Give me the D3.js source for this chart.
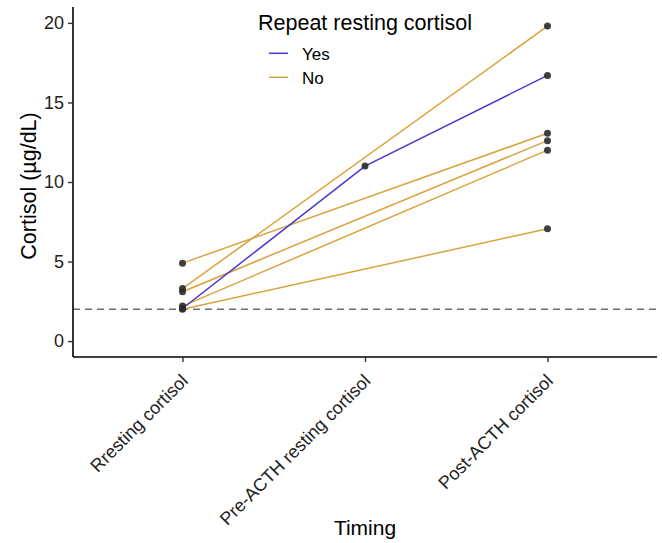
<!DOCTYPE html>
<html>
<head>
<meta charset="utf-8">
<script src="https://cdn.jsdelivr.net/npm/d3@7"></script>
<style>
  body { margin: 0; background: white; }
  text { font-family: "Liberation Sans", Arial, sans-serif; }
</style>
</head>
<body>
<script>
// Data
const timings = ['Rresting cortisol', 'Pre-ACTH resting cortisol', 'Post-ACTH cortisol']
const groups = ['Yes', 'No']
const groupColors = ['#4a36d9', '#daa23c']

// one row per subject: group, resting, pre-ACTH (null if not done), post-ACTH
const subjectGroup = ['Yes', 'No', 'No', 'No', 'No', 'No']
const restingVals = [2.05, 4.9, 3.3, 3.1, 2.2, 2.0]
const preVals = [11.0, null, null, null, null, null]
const postVals = [16.7, 13.06, 19.8, 12.6, 12.0, 7.06]

const threshold = 2

const width = 662, height = 543
const margin = {left: 73, right: 5, top: 7, bottom: 186}

const svg = d3.select('body').append('svg')
  .attr('width', width).attr('height', height)

const x = d3.scalePoint()
  .domain(timings)
  .range([margin.left, width - margin.right])
  .padding(0.6)

const y = d3.scaleLinear()
  .domain([-1.0, 21.0])
  .range([height - margin.bottom, margin.top])

const color = d3.scaleOrdinal().domain(groups).range(groupColors)

// dashed reference line
svg.append('line')
  .attr('x1', margin.left).attr('x2', width - margin.right)
  .attr('y1', y(threshold)).attr('y2', y(threshold))
  .style('stroke', '#6e6e6e').style('stroke-width', 1.4)
  .style('stroke-dasharray', '7,5')

// build subject series
let subjects = subjectGroup.map((g, i) => {
  let vals = [restingVals[i], preVals[i], postVals[i]]
  let pts = vals.map((v, j) => ({t: timings[j], v: v})).filter(d => d.v != null)
  return {group: g, pts: pts}
})

const line = d3.line().x(d => x(d.t)).y(d => y(d.v))

// draw No first so Yes is on top
let ordered = subjects.filter(s => s.group == 'No').concat(subjects.filter(s => s.group == 'Yes'))
svg.append('g').selectAll('path')
  .data(ordered).enter().append('path')
  .attr('d', d => line(d.pts))
  .style('fill', 'none')
  .style('stroke', d => color(d.group))
  .style('stroke-width', 1.5)

let allPts = subjects.flatMap(s => s.pts)
svg.append('g').selectAll('circle')
  .data(allPts).enter().append('circle')
  .attr('cx', d => x(d.t)).attr('cy', d => y(d.v))
  .attr('r', 3.5)
  .style('fill', '#2b2b2b').style('fill-opacity', 0.9)

// axes
const yAxis = svg.append('g')
  .attr('transform', `translate(${margin.left},0)`)
  .call(d3.axisLeft(y).tickValues([0, 5, 10, 15, 20]).tickSize(5).tickPadding(4))
yAxis.select('.domain').attr('d', `M0,${height - margin.bottom}V${margin.top}`)
  .style('stroke', 'black').style('stroke-width', 1.6)
yAxis.selectAll('.tick line').style('stroke', '#333').style('stroke-width', 1.4)
yAxis.selectAll('.tick text')
  .style('font-size', '18px').style('fill', '#222')

const xAxis = svg.append('g')
  .attr('transform', `translate(0,${height - margin.bottom})`)
  .call(d3.axisBottom(x).tickSize(5).tickPadding(3))
xAxis.select('.domain').attr('d', `M${margin.left},0H${width - margin.right}`)
  .style('stroke', 'black').style('stroke-width', 1.6)
xAxis.selectAll('.tick line').style('stroke', '#333').style('stroke-width', 1.4)
xAxis.selectAll('.tick text')
  .style('font-size', '18px').style('fill', '#222')
  .attr('text-anchor', 'end')
  .attr('dy', null).attr('y', 0)
  .attr('transform', 'translate(6,25) rotate(-45)')

// axis titles
svg.append('text')
  .attr('transform', `translate(36,186) rotate(-90)`)
  .attr('text-anchor', 'middle')
  .style('font-size', '21.5px')
  .text('Cortisol (\u00b5g/dL)')

svg.append('text')
  .attr('x', (margin.left + width - margin.right) / 2).attr('y', 535)
  .attr('text-anchor', 'middle')
  .style('font-size', '21px')
  .text('Timing')

// legend
const legend = svg.append('g').attr('transform', 'translate(258,0)')
legend.append('text')
  .attr('x', 0).attr('y', 30)
  .style('font-size', '21.5px')
  .text('Repeat resting cortisol')
groups.forEach((g, i) => {
  let ly = 53.3 + i * 24
  legend.append('line')
    .attr('x1', 11).attr('x2', 30)
    .attr('y1', ly).attr('y2', ly)
    .style('stroke', color(g)).style('stroke-width', 1.5)
  legend.append('text')
    .attr('x', 44).attr('y', ly + 6.5)
    .style('font-size', '17px')
    .text(g)
})
</script>
</body>
</html>
